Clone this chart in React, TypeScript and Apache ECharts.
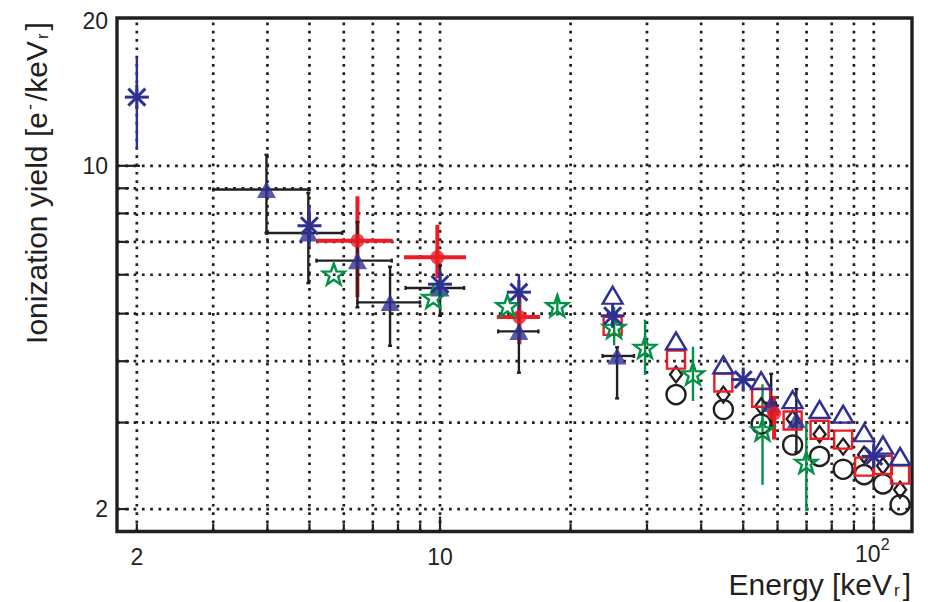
import React, { useEffect, useRef } from "react";
import * as echarts from "echarts";

// ---------- axis ranges & ticks ----------
const X_MIN = 1.8;
const X_MAX = 122.5;
const Y_MIN = 1.8;
const Y_MAX = 20;
const xGridValues = [2, 3, 4, 5, 6, 7, 8, 9, 10, 20, 30, 40, 50, 60, 70, 80, 90, 100];
const xMajorTicks = [10, 100];
const yGridValues = [2, 3, 4, 5, 6, 7, 8, 9, 10];
const yMajorTicks = [10];
const xLabelValues = [2, 10, 100];
const xLabelTexts = ["2", "10", "10"];
const xLabelSups = ["", "", "2"];
const yLabelValues = [2, 10, 20];
const yLabelTexts = ["2", "10", "20"];

// ---------- data ----------
// navy asterisks with navy vertical error bars
const astE = [2, 5, 10, 15.2, 25, 50, 100];
const astY = [13.8, 7.55, 5.74, 5.53, 4.95, 3.67, 2.56];
const astYLo = [10.83, 6.83, 5.35, 5.0, 4.75, 3.67, 2.43];
const astYHi = [16.67, 8.33, 6.16, 6.02, 5.2, 3.67, 2.75];

// navy filled triangles with black x/y error bars
const triE = [3.98, 4.97, 6.45, 7.67, 10.0, 15.2, 25.6, 58.0, 66.3];
const triY = [8.95, 7.3, 6.41, 5.27, 5.64, 4.6, 4.1, 3.28, 3.04];
const triELo = [3.0, 3.98, 5.19, 6.45, 8.33, 13.62, 23.7, 56.5, 66.3];
const triEHi = [4.97, 5.95, 7.74, 8.99, 11.36, 16.86, 28.0, 59.5, 66.3];
const triYLo = [7.3, 5.77, 5.15, 4.3, 4.95, 3.79, 3.36, 2.95, 2.61];
const triYHi = [10.53, 8.8, 7.68, 6.23, 6.26, 5.4, 4.27, 3.77, 3.51];

// red filled circles with red x/y error bars
const redE = [6.45, 9.86, 15.24, 58.9];
const redY = [7.04, 6.51, 4.92, 3.13];
const redELo = [5.19, 8.26, 13.52, 57.0];
const redEHi = [7.78, 11.48, 17.0, 60.5];
const redYLo = [5.4, 5.9, 4.33, 2.77];
const redYHi = [8.67, 7.58, 5.5, 3.4];

// green open stars with green vertical error bars
const starE = [5.69, 9.65, 14.3, 18.64, 25.2, 29.7, 38.3, 55.4, 69.9];
const starY = [6.02, 5.4, 5.19, 5.19, 4.69, 4.27, 3.77, 2.9, 2.49];
const starYLo = [6.02, 5.4, 5.19, 4.95, 4.31, 3.75, 3.32, 2.24, 1.98];
const starYHi = [6.02, 5.4, 5.19, 5.44, 5.16, 4.86, 4.28, 3.59, 3.0];

// open markers on a common energy grid
const openTriE = [25, 35, 45, 55, 65, 75, 85, 95, 105, 115];
const openTriY = [5.45, 4.4, 3.93, 3.65, 3.34, 3.19, 3.12, 2.86, 2.7, 2.56];
const squareE = [25, 35, 45, 55, 65, 75, 85, 95, 105, 115];
const squareY = [4.72, 4.03, 3.62, 3.37, 3.03, 2.9, 2.77, 2.44, 2.46, 2.35];
const diamondE = [35, 45, 55, 65, 75, 85, 95, 105, 115];
const diamondY = [3.76, 3.42, 3.24, 3.05, 2.84, 2.68, 2.58, 2.45, 2.19];
const circleE = [35, 45, 55, 65, 75, 85, 95, 105, 115];
const circleY = [3.42, 3.19, 2.98, 2.7, 2.56, 2.41, 2.35, 2.25, 2.04];

// ---------- styles ----------
const NAVY = "#2e3192";
const RED = "#ed1c24";
const GREEN = "#009245";
const BLACK = "#231f20";
const FONT = '"Liberation Sans", Arial, Helvetica, sans-serif';
const STAR =
  "path://M10,0L12.35,6.76L19.51,6.91L13.8,11.24L15.88,18.09L10,14L4.12,18.09L6.2,11.24L0.49,6.91L7.65,6.76Z";

const pairs = (xs: number[], ys: number[]) => xs.map((x, i) => [x, ys[i]]);

function errorSeries(
  name: string,
  rows: number[][],
  color: string,
  width: number,
  cap: number
) {
  return {
    name,
    type: "custom",
    coordinateSystem: "cartesian2d",
    encode: { x: 0, y: 1 },
    data: rows,
    silent: true,
    renderItem: (_p: any, api: any) => {
      const x = api.value(0);
      const y = api.value(1);
      const xlo = api.value(2);
      const xhi = api.value(3);
      const ylo = api.value(4);
      const yhi = api.value(5);
      const children: any[] = [];
      const st = { stroke: color, lineWidth: width };
      if (xlo !== xhi) {
        const a = api.coord([xlo, y]);
        const b = api.coord([xhi, y]);
        children.push({ type: "line", shape: { x1: a[0], y1: a[1], x2: b[0], y2: b[1] }, style: st });
        if (cap > 0) {
          children.push({ type: "line", shape: { x1: a[0], y1: a[1] - cap, x2: a[0], y2: a[1] + cap }, style: st });
          children.push({ type: "line", shape: { x1: b[0], y1: b[1] - cap, x2: b[0], y2: b[1] + cap }, style: st });
        }
      }
      if (ylo !== yhi) {
        const a = api.coord([x, ylo]);
        const b = api.coord([x, yhi]);
        children.push({ type: "line", shape: { x1: a[0], y1: a[1], x2: b[0], y2: b[1] }, style: st });
        if (cap > 0) {
          children.push({ type: "line", shape: { x1: a[0] - cap, y1: a[1], x2: a[0] + cap, y2: a[1] }, style: st });
          children.push({ type: "line", shape: { x1: b[0] - cap, y1: b[1], x2: b[0] + cap, y2: b[1] }, style: st });
        }
      }
      return { type: "group", children };
    },
    z: 3,
  };
}

// asterisk markers ("*" with 8 spokes) drawn at the library's coordinates
function asteriskSeries(name: string, data: number[][], color: string) {
  return {
    name,
    type: "custom",
    coordinateSystem: "cartesian2d",
    encode: { x: 0, y: 1 },
    data,
    silent: true,
    z: 5,
    renderItem: (_p: any, api: any) => {
      const c = api.coord([api.value(0), api.value(1)]);
      const r = 12;
      const d = 8.5;
      const st = { stroke: color, lineWidth: 3 };
      const segs = [
        [-r, 0, r, 0],
        [0, -r, 0, r],
        [-d, -d, d, d],
        [-d, d, d, -d],
      ];
      return {
        type: "group",
        children: segs.map((s) => ({
          type: "line",
          shape: { x1: c[0] + s[0], y1: c[1] + s[1], x2: c[0] + s[2], y2: c[1] + s[3] },
          style: st,
        })),
      };
    },
  };
}

function frameSeries() {
  return {
    name: "frame",
    type: "custom",
    coordinateSystem: "cartesian2d",
    encode: { x: 0, y: 1 },
    data: [[X_MIN, Y_MIN]],
    silent: true,
    clip: false,
    z: 1,
    renderItem: (_p: any, api: any) => {
      const children: any[] = [];
      const lo = api.coord([X_MIN, Y_MIN]);
      const hi = api.coord([X_MAX, Y_MAX]);
      const dot = { stroke: BLACK, lineWidth: 2.7, lineDash: [2.7, 5.6] };
      const solid = { stroke: BLACK, lineWidth: 2.2 };
      xGridValues.forEach((v) => {
        const p = api.coord([v, Y_MIN]);
        children.push({ type: "line", shape: { x1: p[0], y1: lo[1], x2: p[0], y2: hi[1] }, style: dot });
        const len = xMajorTicks.indexOf(v) >= 0 ? 15 : 8;
        children.push({ type: "line", shape: { x1: p[0], y1: lo[1], x2: p[0], y2: lo[1] - len }, style: solid });
      });
      yGridValues.forEach((v) => {
        const p = api.coord([X_MIN, v]);
        children.push({ type: "line", shape: { x1: lo[0], y1: p[1], x2: hi[0], y2: p[1] }, style: dot });
        const len = yMajorTicks.indexOf(v) >= 0 ? 23 : 12;
        children.push({ type: "line", shape: { x1: lo[0], y1: p[1], x2: lo[0] + len, y2: p[1] }, style: solid });
      });
      xLabelValues.forEach((v, i) => {
        const p = api.coord([v, Y_MIN]);
        const sup = xLabelSups[i];
        const shift = sup ? -6 : 0;
        children.push({
          type: "text",
          x: p[0] + shift,
          y: lo[1] + (sup ? 22 : 25),
          style: { text: xLabelTexts[i], font: `23px ${FONT}`, fill: BLACK, textAlign: "center", textVerticalAlign: "middle" },
        });
        if (sup) {
          children.push({
            type: "text",
            x: p[0] + shift + 13,
            y: lo[1] + 13,
            style: { text: sup, font: `16px ${FONT}`, fill: BLACK, textAlign: "left", textVerticalAlign: "middle" },
          });
        }
      });
      yLabelValues.forEach((v, i) => {
        const p = api.coord([X_MIN, v]);
        children.push({
          type: "text",
          x: lo[0] - 9,
          y: p[1] + (v === Y_MAX ? 3 : 0),
          style: { text: yLabelTexts[i], font: `23px ${FONT}`, fill: BLACK, textAlign: "right", textVerticalAlign: "middle" },
        });
      });
      return { type: "group", children };
    },
  };
}

function scatter(name: string, data: number[][], symbol: string, size: any, itemStyle: any, z = 4) {
  return { name, type: "scatter", data, symbol, symbolSize: size, itemStyle, silent: true, z };
}

const openStyle = (c: string) => ({ color: "transparent", borderColor: c, borderWidth: 2.4, opacity: 1 });

export default function App() {
  const ref = useRef<HTMLDivElement>(null);
  useEffect(() => {
    if (!ref.current) return;
    const chart = echarts.init(ref.current, undefined, { renderer: "svg" });
    const axisCommon = {
      axisLine: { show: false },
      axisTick: { show: false },
      axisLabel: { show: false },
      splitLine: { show: false },
    };
    chart.setOption({
      animation: false,
      backgroundColor: "#ffffff",
      grid: {
        left: 117,
        right: 16,
        top: 18,
        bottom: 70.5,
        show: true,
        borderColor: BLACK,
        borderWidth: 3.4,
        backgroundColor: "transparent",
      },
      xAxis: { type: "log", logBase: 10, min: X_MIN, max: X_MAX, ...axisCommon },
      yAxis: { type: "log", logBase: 10, min: Y_MIN, max: Y_MAX, ...axisCommon },
      graphic: [
        {
          type: "text",
          right: 17,
          top: 566,
          z: 10,
          style: {
            text: "Energy [keV{sub|r}]",
            font: `30px ${FONT}`,
            fill: BLACK,
            rich: {
              sub: { fontSize: 17, fontFamily: "Liberation Sans", verticalAlign: "bottom", lineHeight: 17, padding: [16, 3, 0, 2] },
            },
          },
        },
        {
          type: "text",
          x: 36,
          y: 183,
          rotation: Math.PI / 2,
          z: 10,
          style: {
            text: "Ionization yield [e{sup|-}/keV{sub|r}]",
            font: `30px ${FONT}`,
            fill: BLACK,
            textAlign: "center",
            textVerticalAlign: "middle",
            rich: {
              sup: { fontSize: 18, fontFamily: "Liberation Sans", verticalAlign: "top", lineHeight: 18, padding: [0, 3, 14, 2] },
              sub: { fontSize: 17, fontFamily: "Liberation Sans", verticalAlign: "bottom", lineHeight: 17, padding: [16, 3, 0, 2] },
            },
          },
        },
      ],
      series: [
        frameSeries(),
        scatter("circles", pairs(circleE, circleY), "circle", 19, openStyle(BLACK)),
        scatter("diamonds", pairs(diamondE, diamondY), "diamond", [12, 16], openStyle(BLACK)),
        scatter("squares", pairs(squareE, squareY), "rect", 18, openStyle(RED)),
        scatter("openTriangles", pairs(openTriE, openTriY), "triangle", [20, 17], openStyle(NAVY)),
        errorSeries(
          "redErr",
          redE.map((e, i) => [e, redY[i], redELo[i], redEHi[i], redYLo[i], redYHi[i]]),
          RED,
          4,
          0
        ),
        errorSeries(
          "blackErr",
          triE.map((e, i) => [e, triY[i], triELo[i], triEHi[i], triYLo[i], triYHi[i]]),
          BLACK,
          2.4,
          2
        ),
        scatter("triangles", pairs(triE, triY), "triangle", [19, 17], { color: NAVY }),
        scatter("redCircles", pairs(redE, redY), "circle", 14, { color: RED }),
        errorSeries(
          "asteriskErr",
          astE.map((e, i) => [e, astY[i], e, e, astYLo[i], astYHi[i]]),
          NAVY,
          2.4,
          0
        ),
        asteriskSeries("asterisks", pairs(astE, astY), NAVY),
        errorSeries(
          "greenErr",
          starE.map((e, i) => [e, starY[i], e, e, starYLo[i], starYHi[i]]),
          GREEN,
          2.4,
          0
        ),
        scatter("stars", pairs(starE, starY), STAR, [22, 21], openStyle(GREEN)),
      ],
    });
    return () => chart.dispose();
  }, []);
  return (
    <div
      ref={ref}
      style={{ position: "absolute", left: 0, top: 0, width: 928, height: 602, background: "#fff" }}
    />
  );
}
